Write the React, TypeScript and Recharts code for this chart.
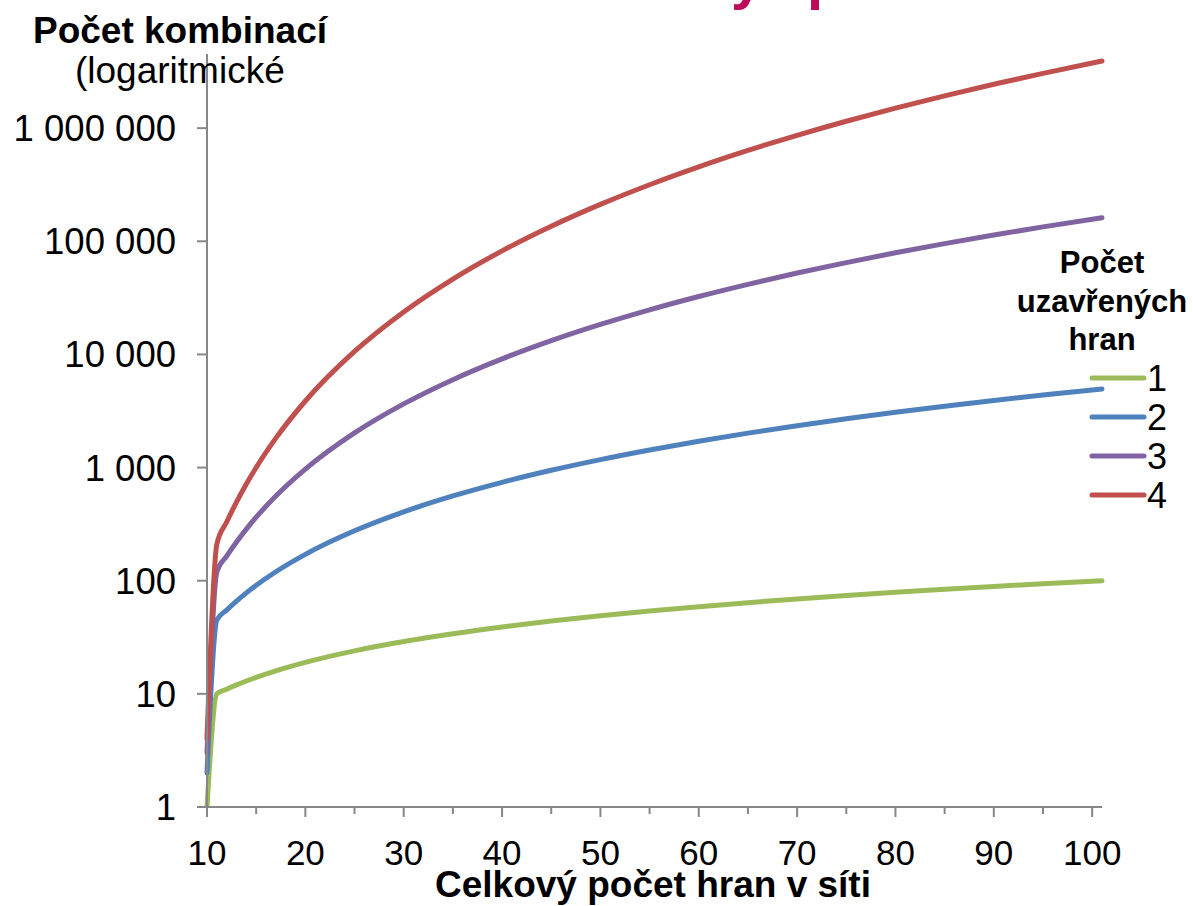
import { LineChart, Line, XAxis, YAxis, Legend } from 'recharts';

const FONT = '"Liberation Sans", Arial, sans-serif';
const AXIS_GRAY = '#878787';

// celkový počet hran v síti
const edgeCounts = [10, 11, 12, 13, 14, 15, 17, 20, 25, 30, 35, 40, 45, 50, 55, 60, 65, 70, 75, 80, 85, 90, 95, 101];
// počet kombinací pro 1..4 uzavřené hrany
const closed1 = [1, 10, 11, 12, 13, 14, 16, 19, 24, 29, 34, 39, 44, 49, 54, 59, 64, 69, 74, 79, 84, 89, 94, 100];
const closed2 = [2, 45, 55, 66, 78, 91, 120, 171, 276, 406, 561, 741, 946, 1176, 1431, 1711, 2016, 2346, 2701, 3081, 3486, 3916, 4371, 4950];
const closed3 = [3, 120, 165, 220, 286, 364, 560, 969, 2024, 3654, 5984, 9139, 13244, 18424, 24804, 32509, 41664, 52394, 64824, 79079, 95284, 113564, 134044, 161700];
const closed4 = [4, 210, 330, 495, 715, 1001, 1820, 3876, 10626, 23751, 46376, 82251, 135751, 211876, 316251, 455126, 635376, 864501, 1150626, 1502501, 1929501, 2441626, 3049501, 3921225];

const seriesNames = ['1', '2', '3', '4'];
const seriesColors = ['#9BBB59', '#4F81BD', '#8064A2', '#C0504D'];

const xTicks = [10, 15, 20, 25, 30, 35, 40, 45, 50, 55, 60, 65, 70, 75, 80, 85, 90, 95, 100];
const yTicks = [1, 10, 100, 1000, 10000, 100000, 1000000];

const data = edgeCounts.map((x, i) => ({
  x,
  s1: closed1[i],
  s2: closed2[i],
  s3: closed3[i],
  s4: closed4[i],
}));

const fmtThousands = (v: number) => String(v).replace(/\B(?=(\d{3})+(?!\d))/g, ' ');

function XTick(props: any) {
  const { x, y, payload } = props;
  const major = payload.value % 10 === 0;
  return (
    <g>
      <line x1={x} x2={x} y1={y} y2={y + (major ? 10 : 7)} stroke={AXIS_GRAY} strokeWidth={2} />
      {major && (
        <text x={x} y={y + 58} textAnchor="middle" fontSize={35} fontFamily={FONT} fill="#000">
          {payload.value}
        </text>
      )}
    </g>
  );
}

function LegendBox(props: any) {
  const items = props.payload || [];
  return (
    <svg width={193} height={290} style={{ display: 'block' }}>
      <g fontFamily={FONT} fontWeight="bold" fontSize={31} fill="#000" textAnchor="middle">
        <text x={102} y={33}>Počet</text>
        <text x={102} y={72}>uzavřených</text>
        <text x={102} y={110}>hran</text>
      </g>
      {items.map((it: any, i: number) => {
        const cy = 138 + i * 39;
        return (
          <g key={it.value}>
            <line x1={92} x2={144} y1={cy} y2={cy} stroke={it.color} strokeWidth={5} strokeLinecap="round" />
            <text x={147} y={cy + 13} fontSize={36} fontFamily={FONT} fill="#000">{it.value}</text>
          </g>
        );
      })}
    </svg>
  );
}

export default function App() {
  const keys = ['s1', 's2', 's3', 's4'];
  return (
    <div style={{ position: 'absolute', left: 0, top: 0, width: 1193, height: 906, background: '#fff', overflow: 'hidden' }}>
      <LineChart width={1193} height={906} data={data} margin={{ top: 15, right: 91, bottom: 0, left: 0 }}>
        <XAxis
          dataKey="x"
          type="number"
          domain={[10, 101]}
          ticks={xTicks}
          interval={0}
          height={99}
          tickSize={0}
          tickMargin={0}
          tickLine={false}
          axisLine={{ stroke: AXIS_GRAY, strokeWidth: 2 }}
          tick={<XTick />}
        />
        <YAxis
          type="number"
          scale="log"
          domain={[1, 10000000]}
          ticks={yTicks}
          interval={0}
          allowDataOverflow
          width={207}
          tickSize={10}
          tickMargin={21}
          tickFormatter={fmtThousands}
          axisLine={{ stroke: AXIS_GRAY, strokeWidth: 2 }}
          tickLine={{ stroke: AXIS_GRAY, strokeWidth: 2 }}
          tick={{ fontSize: 36.5, fontFamily: FONT, fill: '#000' }}
        />
        <Legend
          layout="vertical"
          align="center"
          verticalAlign="middle"
          content={<LegendBox />}
          wrapperStyle={{ left: 1000, top: 240, width: 193, height: 290 }}
        />
        {keys.map((k, i) => (
          <Line
            key={k}
            dataKey={k}
            name={seriesNames[i]}
            type="monotone"
            stroke={seriesColors[i]}
            strokeWidth={5}
            strokeLinecap="round"
            strokeLinejoin="round"
            dot={false}
            activeDot={false}
            isAnimationActive={false}
          />
        ))}
      </LineChart>
      <svg width={1193} height={906} style={{ position: 'absolute', left: 0, top: 0, pointerEvents: 'none' }}>
        <rect x={198} y={0} width={18} height={54} fill="#fff" />
        <g fontFamily={FONT} fontWeight="bold" fontSize={58} fill="#BE0A5A">
          <text x={731} y={-2}>y</text>
          <text x={807} y={-2}>p</text>
        </g>
        <text x={33} y={43} fontFamily={FONT} fontWeight="bold" fontSize={37} fill="#000">Počet kombinací</text>
        <text x={75} y={83} fontFamily={FONT} fontSize={37} fill="#000">(logaritmické</text>
        <text x={653} y={897} textAnchor="middle" fontFamily={FONT} fontWeight="bold" fontSize={37} fill="#000">Celkový počet hran v síti</text>
      </svg>
    </div>
  );
}
